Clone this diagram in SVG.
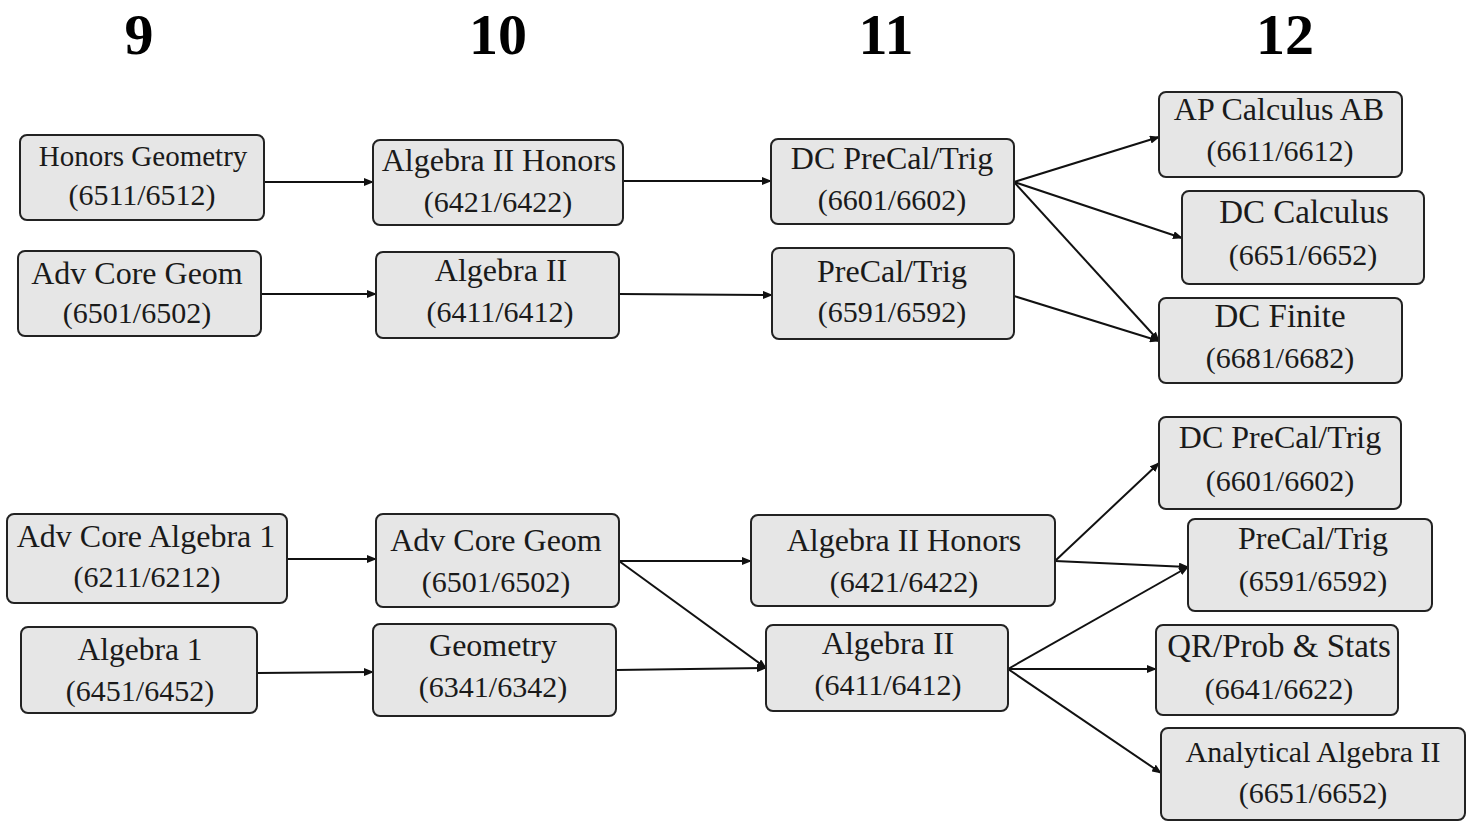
<svg xmlns="http://www.w3.org/2000/svg" width="1473" height="821" viewBox="0 0 1473 821">
<defs>
<marker id="ah" markerWidth="10" markerHeight="8" refX="9" refY="4" orient="auto" markerUnits="userSpaceOnUse">
<path d="M0,0 L10,4 L0,8 z" fill="#111"/>
</marker>
<style>
.box{fill:#e6e6e6;stroke:#222;stroke-width:2}
.t{font-family:"Liberation Serif","Times New Roman","Nimbus Roman","DejaVu Serif",serif;font-size:30px;fill:#1a1a1a;text-anchor:middle}
.n{font-size:32px}
.h{font-family:"Liberation Serif","Times New Roman","DejaVu Serif",serif;font-size:58px;font-weight:bold;fill:#000;text-anchor:middle}
.c{stroke:#111;stroke-width:2;fill:none;marker-end:url(#ah)}
</style>
</defs>
<rect width="1473" height="821" fill="#fff"/>
<g id="headers">
<text class="h" x="139" y="54">9</text>
<text class="h" x="498" y="54">10</text>
<text class="h" x="886" y="54">11</text>
<text class="h" x="1285" y="54">12</text>
</g>
<g id="connectors">
<line class="c" x1="264" y1="182" x2="373" y2="182"/>
<line class="c" x1="261" y1="294" x2="376" y2="294"/>
<line class="c" x1="623" y1="181" x2="771" y2="181"/>
<line class="c" x1="619" y1="294" x2="772" y2="295"/>
<line class="c" x1="1014" y1="182" x2="1159" y2="137"/>
<line class="c" x1="1014" y1="182" x2="1182" y2="238"/>
<line class="c" x1="1014" y1="182" x2="1159" y2="341"/>
<line class="c" x1="1014" y1="296" x2="1159" y2="341"/>
<line class="c" x1="287" y1="559" x2="376" y2="559"/>
<line class="c" x1="258" y1="673" x2="373" y2="672"/>
<line class="c" x1="619" y1="561" x2="751" y2="561"/>
<line class="c" x1="619" y1="561" x2="766" y2="668"/>
<line class="c" x1="616" y1="670" x2="766" y2="668"/>
<line class="c" x1="1055" y1="561" x2="1159" y2="463"/>
<line class="c" x1="1055" y1="561" x2="1188" y2="567"/>
<line class="c" x1="1008" y1="669" x2="1188" y2="567"/>
<line class="c" x1="1008" y1="669" x2="1156" y2="669"/>
<line class="c" x1="1008" y1="669" x2="1161" y2="773"/>
</g>
<g id="n1"><rect class="box" x="20" y="135" width="244" height="85" rx="7"/><text class="t" x="143" y="166" style="font-size:29px">Honors Geometry</text><text class="t" x="142" y="205">(6511/6512)</text></g>
<g id="n2"><rect class="box" x="373" y="140" width="250" height="85" rx="7"/><text class="t n" x="499" y="171">Algebra II Honors</text><text class="t" x="498" y="212">(6421/6422)</text></g>
<g id="n3"><rect class="box" x="771" y="139" width="243" height="85" rx="7"/><text class="t n" x="892" y="169">DC PreCal/Trig</text><text class="t" x="892" y="210">(6601/6602)</text></g>
<g id="n4"><rect class="box" x="1159" y="92" width="243" height="85" rx="7"/><text class="t n" x="1279" y="120">AP Calculus AB</text><text class="t" x="1280" y="161">(6611/6612)</text></g>
<g id="n5"><rect class="box" x="1182" y="191" width="242" height="93" rx="7"/><text class="t" x="1304" y="223" style="font-size:33px">DC Calculus</text><text class="t" x="1303" y="265">(6651/6652)</text></g>
<g id="n6"><rect class="box" x="1159" y="298" width="243" height="85" rx="7"/><text class="t" x="1280" y="327" style="font-size:33px">DC Finite</text><text class="t" x="1280" y="368">(6681/6682)</text></g>
<g id="n7"><rect class="box" x="18" y="251" width="243" height="85" rx="7"/><text class="t n" x="137" y="284">Adv Core Geom</text><text class="t" x="137" y="323">(6501/6502)</text></g>
<g id="n8"><rect class="box" x="376" y="252" width="243" height="86" rx="7"/><text class="t n" x="501" y="281">Algebra II</text><text class="t" x="500" y="322">(6411/6412)</text></g>
<g id="n9"><rect class="box" x="772" y="248" width="242" height="91" rx="7"/><text class="t n" x="892" y="282">PreCal/Trig</text><text class="t" x="892" y="322">(6591/6592)</text></g>
<g id="n10"><rect class="box" x="7" y="514" width="280" height="89" rx="7"/><text class="t n" x="146" y="547">Adv Core Algebra 1</text><text class="t" x="147" y="587">(6211/6212)</text></g>
<g id="n11"><rect class="box" x="21" y="627" width="236" height="86" rx="7"/><text class="t" x="140" y="660" style="font-size:31.5px">Algebra 1</text><text class="t" x="140" y="701">(6451/6452)</text></g>
<g id="n12"><rect class="box" x="376" y="514" width="243" height="93" rx="7"/><text class="t n" x="496" y="551">Adv Core Geom</text><text class="t" x="496" y="592">(6501/6502)</text></g>
<g id="n13"><rect class="box" x="373" y="624" width="243" height="92" rx="7"/><text class="t n" x="493" y="656">Geometry</text><text class="t" x="493" y="697">(6341/6342)</text></g>
<g id="n14"><rect class="box" x="751" y="515" width="304" height="91" rx="7"/><text class="t n" x="904" y="551">Algebra II Honors</text><text class="t" x="904" y="592">(6421/6422)</text></g>
<g id="n15"><rect class="box" x="766" y="625" width="242" height="86" rx="7"/><text class="t n" x="888" y="654">Algebra II</text><text class="t" x="888" y="695">(6411/6412)</text></g>
<g id="n16"><rect class="box" x="1159" y="417" width="242" height="92" rx="7"/><text class="t n" x="1280" y="448">DC PreCal/Trig</text><text class="t" x="1280" y="491">(6601/6602)</text></g>
<g id="n17"><rect class="box" x="1188" y="519" width="244" height="92" rx="7"/><text class="t n" x="1313" y="549">PreCal/Trig</text><text class="t" x="1313" y="591">(6591/6592)</text></g>
<g id="n18"><rect class="box" x="1156" y="625" width="242" height="90" rx="7"/><text class="t" x="1279" y="657" style="font-size:33px">QR/Prob &amp; Stats</text><text class="t" x="1279" y="699">(6641/6622)</text></g>
<g id="n19"><rect class="box" x="1161" y="728" width="304" height="92" rx="7"/><text class="t" x="1313" y="762">Analytical Algebra II</text><text class="t" x="1313" y="803">(6651/6652)</text></g>
</svg>
